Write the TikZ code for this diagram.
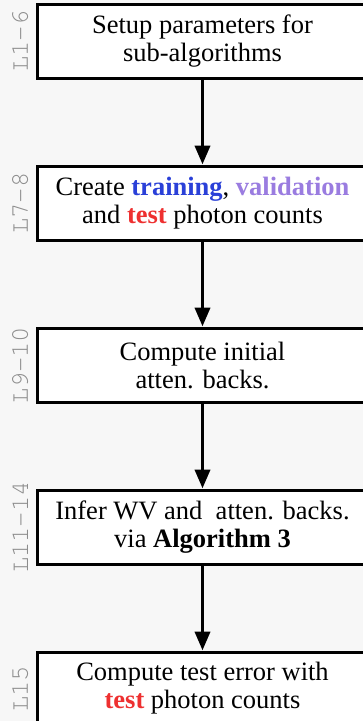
\documentclass[tikz,border=0pt]{standalone}
\usepackage[T1,TU]{fontenc}
\usepackage{fontspec}
\setmainfont{Liberation Serif}
\usetikzlibrary{arrows.meta}
\definecolor{bgcol}{HTML}{F7F7F7}
\definecolor{lblgray}{HTML}{8C8C8C}
\definecolor{trainblue}{HTML}{2A40D8}
\definecolor{valpurple}{HTML}{9A7CE0}
\definecolor{testred}{HTML}{EE3030}
\newcommand{\lblfont}{\fontencoding{T1}\fontfamily{pcr}\fontseries{m}\fontshape{n}\fontsize{25.5}{25.5}\selectfont}
\tikzset{
  stepbox/.style={draw=black, fill=white, line width=3pt, minimum width=331pt,
    minimum height=74pt, inner sep=0pt, align=center,
    font=\fontsize{26.5}{28}\selectfont},
  lbl/.style={rotate=90, text=lblgray, inner sep=0pt, font=\lblfont},
  arr/.style={line width=3.8pt, -{Triangle[width=15pt,length=19pt]}}
}
\begin{document}
\begin{tikzpicture}[x=1pt,y=-1pt]
\useasboundingbox (0,0) rectangle (363,721);
\clip (0,0) rectangle (363,721);
\fill[bgcol] (0,0) rectangle (363,721);
\node[stepbox] (b1) at (202.5,41) {Setup parameters for\\sub-algorithms};
\node[stepbox] (b2) at (202.5,203) {Create \textbf{\color{trainblue}training}, \textbf{\color{valpurple}validation}\\and \textbf{\color{testred}test} photon counts};
\node[stepbox] (b3) at (202.5,365) {Compute initial\\atten. backs.};
\node[stepbox] (b4) at (202.5,527) {Infer WV and\ \ atten. backs.\\via \textbf{Algorithm 3}};
\node[stepbox] (b5) at (202.5,689) {Compute test error with\\\textbf{\color{testred}test} photon counts\strut};
\node[lbl] (l1) at (20,41) {L1\textendash 6};
\node[lbl] (l2) at (20,203) {L7\textendash 8};
\node[lbl] (l3) at (20,365) {L9\textendash 10};
\node[lbl] (l4) at (20,527) {L11\textendash 14};
\node[lbl] (l5) at (20,689) {L15};
\draw[arr] (b1.south) -- (b2.north);
\draw[arr] (b2.south) -- (b3.north);
\draw[arr] (b3.south) -- (b4.north);
\draw[arr] (b4.south) -- (b5.north);
\end{tikzpicture}
\end{document}
